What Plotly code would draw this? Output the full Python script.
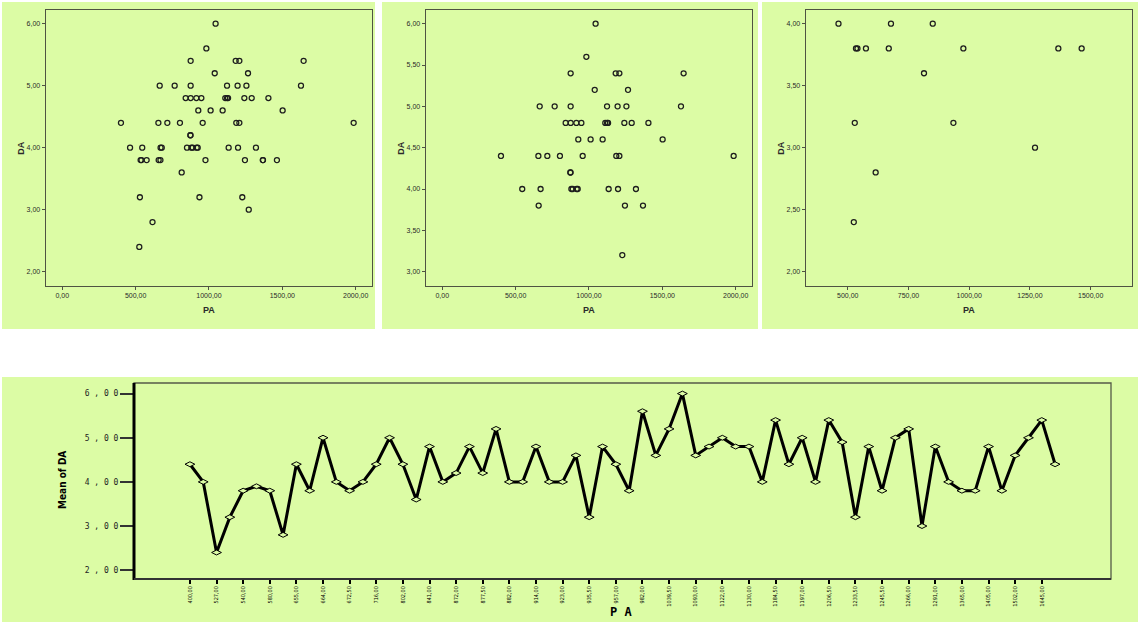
import plotly.graph_objects as go

# ---- scatter data: two groups of (PA, DA) observations ----
group_a_pa = [1045, 982, 875, 1182, 1207, 1645, 1039, 1266,
              664, 766, 875, 1123, 1195, 1255, 1627,
              841, 875, 914, 948, 1111, 1123, 1130, 1241, 1291, 1405,
              927, 1011, 1093, 1502,
              400, 655, 716, 802, 957, 1186, 1207, 1986,
              873, 874,
              545, 670, 880, 889, 916, 923, 1134, 1198, 1320,
              657, 1245, 1368,
              1227]
group_a_da = [6.0, 5.6, 5.4, 5.4, 5.4, 5.4, 5.2, 5.2,
              5.0, 5.0, 5.0, 5.0, 5.0, 5.0, 5.0,
              4.8, 4.8, 4.8, 4.8, 4.8, 4.8, 4.8, 4.8, 4.8, 4.8,
              4.6, 4.6, 4.6, 4.6,
              4.4, 4.4, 4.4, 4.4, 4.4, 4.4, 4.4, 4.4,
              4.2, 4.2,
              4.0, 4.0, 4.0, 4.0, 4.0, 4.0, 4.0, 4.0, 4.0,
              3.8, 3.8, 3.8,
              3.2]

group_b_pa = [462, 678, 850, 534, 540, 575, 669, 976, 1367, 1463,
              814, 529, 935, 1271, 615, 525]
group_b_da = [4.0, 4.0, 4.0, 3.8, 3.8, 3.8, 3.8, 3.8, 3.8, 3.8,
              3.6, 3.2, 3.2, 3.0, 2.8, 2.4]

all_pa = group_a_pa + group_b_pa
all_da = group_a_da + group_b_da

# ---- mean DA for each distinct PA level ----
pa_levels = [400.0, 467.0, 527.0, 532.0, 540.0, 545.0, 580.0, 620.0,
             655.0, 660.0, 664.0, 668.0, 672.5, 680.0, 716.0, 766.0,
             802.0, 815.0, 841.0, 850.0, 872.0, 875.0, 877.5, 879.0,
             882.0, 889.0, 914.0, 916.0, 923.0, 927.0, 935.5, 948.0,
             957.0, 976.0, 982.0, 1011.0, 1039.5, 1045.0, 1093.0, 1111.0,
             1122.0, 1125.0, 1130.0, 1134.0, 1184.5, 1186.0, 1197.0, 1198.0,
             1206.5, 1208.0, 1233.5, 1241.0, 1245.5, 1255.0, 1266.0, 1271.0,
             1291.0, 1320.0, 1365.0, 1368.0, 1405.0, 1462.5, 1502.0, 1627.0,
             1645.0, 1986.0]
mean_da = [4.4, 4.0, 2.4, 3.2, 3.8, 3.9, 3.8, 2.8,
           4.4, 3.8, 5.0, 4.0, 3.8, 4.0, 4.4, 5.0,
           4.4, 3.6, 4.8, 4.0, 4.2, 4.8, 4.2, 5.2,
           4.0, 4.0, 4.8, 4.0, 4.0, 4.6, 3.2, 4.8,
           4.4, 3.8, 5.6, 4.6, 5.2, 6.0, 4.6, 4.8,
           5.0, 4.8, 4.8, 4.0, 5.4, 4.4, 5.0, 4.0,
           5.4, 4.9, 3.2, 4.8, 3.8, 5.0, 5.2, 3.0,
           4.8, 4.0, 3.8, 3.8, 4.8, 3.8, 4.6, 5.0,
           5.4, 4.4]
mean_ticks = [2, 3, 4, 5, 6]

W, H = 1140, 625
BG = "#dcfca5"
FRAME = "#4f5342"
TXT = "#2a2a2a"


def px(x):
    return x / W


def py(y):
    return 1 - y / H


def comma(v):
    return f"{v:.2f}".replace(".", ",")


def label(text, x, y, size, family, angle=0, color=TXT):
    return dict(text=text, xref="paper", yref="paper", x=px(x), y=py(y),
                xanchor="center", yanchor="middle", textangle=angle,
                showarrow=False, font=dict(family=family, size=size, color=color))


pa_labels = [comma(v) for v in pa_levels]

fig = go.Figure()

# three scatter panels
panels = [
    dict(pa=all_pa, da=all_da, xr=[-113, 2109], yr=[1.774, 6.22],
         xt=[0, 500, 1000, 1500, 2000], yt=[2, 3, 4, 5, 6], left=45.7, off=0),
    dict(pa=group_a_pa, da=group_a_da, xr=[-113, 2109], yr=[2.83, 6.166],
         xt=[0, 500, 1000, 1500, 2000], yt=[3, 3.5, 4, 4.5, 5, 5.5, 6], left=425.7, off=380),
    dict(pa=group_b_pa, da=group_b_da, xr=[327, 1669], yr=[1.887, 4.11],
         xt=[500, 750, 1000, 1250, 1500], yt=[2, 2.5, 3, 3.5, 4], left=805.7, off=760),
]

shapes = []
annotations = []
panel_boxes = [(2, 2, 375, 329), (382, 2, 758, 329), (762, 2, 1138, 329), (2, 377, 1138, 622)]
for (x0, y0, x1, y1) in panel_boxes:
    shapes.append(dict(type="rect", xref="paper", yref="paper", layer="below",
                       x0=px(x0), x1=px(x1), y0=py(y1), y1=py(y0),
                       fillcolor=BG, line=dict(width=0)))

SANS = "Liberation Sans, Arial"
for i, p in enumerate(panels, start=1):
    sx = "" if i == 1 else str(i)
    fig.add_trace(go.Scatter(
        x=p["pa"], y=p["da"], mode="markers", xaxis="x" + sx, yaxis="y" + sx,
        marker=dict(symbol="circle-open", size=5, color="#1e1e1e", line=dict(width=1.3)),
        showlegend=False, hoverinfo="x+y"))
    axis_common = dict(showline=True, mirror=True, linecolor=FRAME, linewidth=1.2,
                       ticks="outside", ticklen=3, tickcolor=FRAME, tickwidth=1,
                       showgrid=False, zeroline=False, tickformat=".2f",
                       tickfont=dict(family=SANS, size=7, color=TXT))
    fig.update_layout({
        "xaxis" + sx: dict(axis_common, domain=[px(p["left"]), px(p["left"] + 326)],
                           range=p["xr"], tickvals=p["xt"], anchor="y" + sx),
        "yaxis" + sx: dict(axis_common, domain=[py(285.7), py(10)],
                           range=p["yr"], tickvals=p["yt"], anchor="x" + sx),
    })
    annotations.append(label("<b>DA</b>", p["off"] + 20.7, 148, 9, SANS, angle=-90))
    annotations.append(label("<b>PA</b>", p["off"] + 209, 310, 9, SANS))

# line chart of mean DA by PA
fig.add_trace(go.Scatter(
    x=pa_labels, y=mean_da, mode="lines+markers", xaxis="x4", yaxis="y4",
    line=dict(color="#000000", width=3),
    marker=dict(symbol="diamond-wide", size=7, color=BG, line=dict(color="#000000", width=1)),
    showlegend=False))

fig.update_layout(
    xaxis4=dict(type="category", domain=[px(134), px(1111)], range=[-4.2, 69.2],
                anchor="y4", tickvals=pa_labels[::2], ticktext=pa_labels[::2],
                tickangle=-90, ticks="outside", ticklen=4, tickwidth=2, tickcolor="#000",
                showline=False, showgrid=False, zeroline=False,
                tickfont=dict(family="DejaVu Sans Condensed, Liberation Sans Narrow", size=5.5, color="#000")),
    yaxis4=dict(domain=[py(579), py(383)], range=[1.80, 6.24], anchor="x4",
                tickvals=mean_ticks, ticktext=[" ".join(comma(v)) for v in mean_ticks],
                ticks="outside", ticklen=13, tickwidth=1.5, tickcolor="#333",
                showline=False, showgrid=False, zeroline=False,
                tickfont=dict(family="DejaVu Sans Mono", size=8, color="#222")),
)

# frame of the line chart: thin box, heavy left axis, medium bottom axis
shapes.append(dict(type="rect", xref="paper", yref="paper",
                   x0=px(134), x1=px(1111), y0=py(579), y1=py(383),
                   line=dict(color="#555a48", width=1.3)))
shapes.append(dict(type="line", xref="paper", yref="paper",
                   x0=px(134), x1=px(134), y0=py(580), y1=py(383),
                   line=dict(color="#000", width=3)))
shapes.append(dict(type="line", xref="paper", yref="paper",
                   x0=px(134), x1=px(1111), y0=py(579), y1=py(579),
                   line=dict(color="#333", width=2)))

annotations.append(label("<b>Mean of DA</b>", 62, 480, 10,
                         "DejaVu Sans Condensed, Liberation Sans Narrow", angle=-90, color="#000"))
annotations.append(label("<b>P A</b>", 621, 612, 12, "DejaVu Sans Mono", color="#000"))

fig.update_layout(
    width=W, height=H, margin=dict(l=0, r=0, t=0, b=0),
    paper_bgcolor="white", plot_bgcolor=BG,
    separators=",.", shapes=shapes, annotations=annotations,
    showlegend=False,
)

fig.write_html("out.html")
